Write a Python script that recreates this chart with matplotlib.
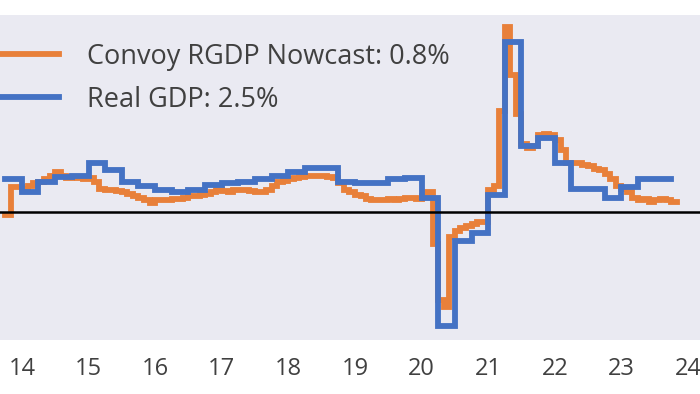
import matplotlib
matplotlib.use("Agg")
import matplotlib.pyplot as plt
import matplotlib.dates as mdates
import numpy as np
import pandas as pd

plt.rcParams['font.family'] = ['Open Sans', 'DejaVu Sans']

# Monthly nowcast (YoY %), Oct 2013 .. Oct 2023
nowcast_start = "2013-10-01"
nowcast = [
    -0.2, 1.9, 1.9,
    1.8, 2.0, 2.2, 2.3, 2.5, 2.8, 3.1, 2.8, 2.6, 2.7, 2.6, 2.5,
    2.6, 2.3, 1.8, 1.7, 1.7, 1.6, 1.5, 1.4, 1.2, 1.1, 0.9, 0.7,
    0.9, 0.9, 0.9, 1.0, 1.0, 1.1, 1.2, 1.2, 1.3, 1.4, 1.5, 1.7,
    1.6, 1.5, 1.7, 1.7, 1.7, 1.6, 1.5, 1.5, 1.7, 2.0, 2.3, 2.4,
    2.5, 2.6, 2.7, 2.8, 2.8, 2.8, 2.8, 2.7, 2.6, 2.2, 1.7, 1.5,
    1.3, 1.2, 1.0, 0.9, 0.9, 0.9, 1.0, 0.9, 1.0, 1.1, 1.1, 1.0,
    1.2, 1.5, -2.5, -6.8, -7.3, -1.9, -1.5, -1.2, -1.1, -0.9, -0.8, -0.8,
    1.7, 2.0, 7.8, 14.2, 10.5, 7.5, 5.2, 4.9, 5.1, 5.9, 6.0, 5.9,
    5.5, 4.8, 3.8, 3.8, 3.8, 3.6, 3.5, 3.3, 3.2, 2.9, 2.5, 2.0,
    1.8, 1.5, 1.1, 0.9, 1.0, 0.8, 0.9, 1.0, 0.9, 0.8,
]

# Quarterly real GDP (YoY %), 2013Q4 .. 2023Q3
gdp_start = "2013-10-01"
real_gdp = [
    2.5,
    1.5, 2.3, 2.7, 2.8,
    3.8, 3.2, 2.3, 2.0,
    1.7, 1.5, 1.7, 2.1,
    2.2, 2.3, 2.5, 2.8,
    3.1, 3.4, 3.4, 2.3,
    2.2, 2.2, 2.5, 2.6,
    1.1, -8.8, -2.2, -1.6,
    1.3, 13.1, 5.1, 5.7,
    3.8, 1.8, 1.8, 1.1,
    1.9, 2.5, 2.5,
]

nowcast_label = "Convoy RGDP Nowcast: 0.8%"
gdp_label = "Real GDP: 2.5%"

orange = "#E8803A"
blue = "#4472C4"

nowcast_dates = pd.date_range(nowcast_start, periods=len(nowcast) + 1, freq="MS")
gdp_dates = pd.date_range(gdp_start, periods=len(real_gdp) + 1, freq="QS")

fig = plt.figure(figsize=(7, 3.94), dpi=100)
ax = fig.add_axes([0, 54 / 394, 1, 325 / 394])
ax.set_facecolor("#EAEAF2")

ax.step(nowcast_dates, nowcast + [nowcast[-1]], where="post",
        color=orange, lw=4.2, label=nowcast_label, solid_joinstyle="miter")
ax.step(gdp_dates, real_gdp + [real_gdp[-1]], where="post",
        color=blue, lw=4.2, label=gdp_label, solid_joinstyle="miter")
ax.axhline(0, color="black", lw=1.8, zorder=5)

ax.set_xlim(pd.Timestamp("2013-09-02"), pd.Timestamp("2024-03-07"))
ax.set_ylim(-9.85, 15.15)

ax.xaxis.set_major_locator(mdates.YearLocator())
ax.xaxis.set_major_formatter(mdates.DateFormatter("%y"))
ax.tick_params(axis="x", length=0, pad=12, labelsize=17, labelcolor="#404040")
ax.set_yticks([])
for s in ax.spines.values():
    s.set_visible(False)

leg = ax.legend(loc="upper left", bbox_to_anchor=(-0.028, 0.915), frameon=False,
                fontsize=19.5, handlelength=2.9, handletextpad=1.05,
                labelspacing=0.56, borderaxespad=0, borderpad=0)
for t in leg.get_texts():
    t.set_color("#404040")

fig.savefig("out.png", dpi=100)
